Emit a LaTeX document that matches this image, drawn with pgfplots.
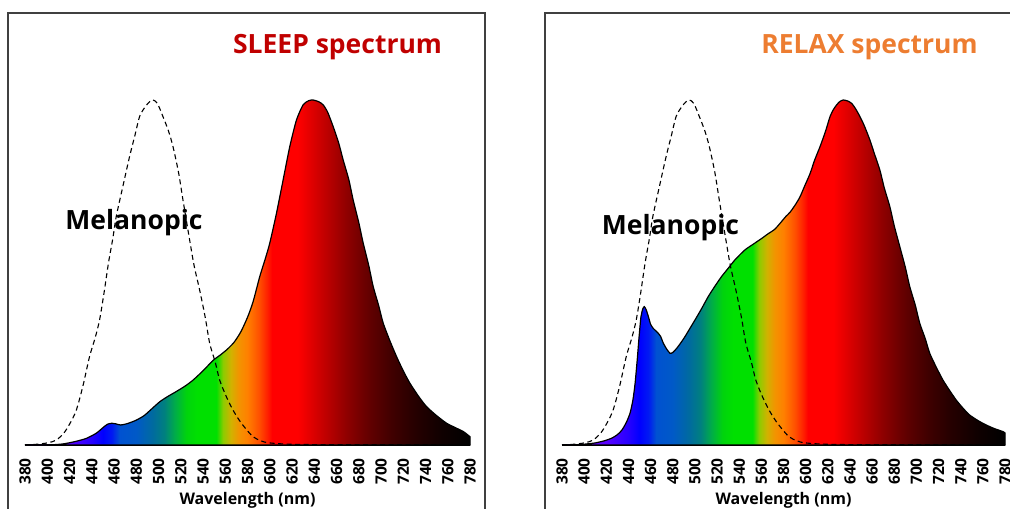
\documentclass[border=0pt]{standalone}
\usepackage{pgfplots}
\pgfplotsset{compat=1.18}
\usepackage{pgfplotstable}
\usepackage{fontspec}
\setmainfont{Open Sans}

\definecolor{sleepred}{RGB}{192,0,0}
\definecolor{relaxorange}{RGB}{237,125,49}
\definecolor{boxgray}{RGB}{64,64,64}

% horizontal spectral shading: 380 nm -> 25bp, 780 nm -> 75bp (8 nm per bp)
\pgfdeclarehorizontalshading{spec}{100bp}{%
rgb(0bp)=(0.45,0,1);
rgb(25bp)=(0.45,0,1);
rgb(30bp)=(0.35,0,1);
rgb(32.5bp)=(0.15,0,1);
rgb(33.75bp)=(0,0,1);
rgb(34.75bp)=(0,0.1,0.95);
rgb(35.625bp)=(0,0.32,0.82);
rgb(37.5bp)=(0,0.35,0.78);
rgb(39.375bp)=(0,0.42,0.62);
rgb(40.625bp)=(0,0.5,0.5);
rgb(41.875bp)=(0,0.68,0.28);
rgb(43.125bp)=(0,0.83,0.05);
rgb(44.375bp)=(0,0.88,0);
rgb(46.5bp)=(0,0.88,0);
rgb(47.25bp)=(0.55,0.8,0);
rgb(48.125bp)=(0.82,0.7,0);
rgb(49bp)=(0.95,0.58,0);
rgb(50bp)=(1,0.5,0);
rgb(51.25bp)=(1,0.32,0);
rgb(52.25bp)=(1,0.12,0);
rgb(52.75bp)=(1,0,0);
rgb(55.625bp)=(1,0,0);
rgb(57.5bp)=(0.85,0,0);
rgb(59.375bp)=(0.7,0,0);
rgb(61.25bp)=(0.55,0,0);
rgb(63.75bp)=(0.38,0,0);
rgb(66.25bp)=(0.25,0,0);
rgb(68.75bp)=(0.15,0,0);
rgb(71.875bp)=(0.06,0,0);
rgb(75bp)=(0,0,0);
rgb(100bp)=(0,0,0)}

\pgfplotstableread{
lam v
380 0
400 0
414 0.003
425 0.01
435 0.019
444 0.034
450 0.05
454 0.06
458 0.063
462 0.061
466 0.058
472 0.062
480 0.072
487 0.085
493 0.102
501 0.125
508 0.14
516 0.155
524 0.171
531 0.188
540 0.215
549 0.245
556 0.262
562 0.278
568 0.298
574 0.328
580 0.37
585 0.415
591 0.488
596 0.54
600 0.585
606 0.671
612 0.768
618 0.865
624 0.942
630 0.986
635 0.998
639 1.0
644 0.995
648 0.986
652 0.965
657 0.923
662 0.875
666 0.826
671 0.77
675 0.71
680 0.645
684 0.585
689 0.52
693 0.459
698 0.403
702 0.353
708 0.302
714 0.256
720 0.215
726 0.179
734 0.14
741 0.111
750 0.085
759 0.063
767 0.05
774 0.039
780 0.024
}\sleepdata

\pgfplotstableread{
lam v
380 0
395 0.001
405 0.004
410 0.006
418 0.012
425 0.02
430 0.03
434 0.043
438 0.065
441.4 0.092
444 0.13
446 0.179
448 0.25
449.5 0.31
451.3 0.372
453 0.395
454.3 0.401
456 0.392
458 0.372
460 0.35
462.4 0.338
466.9 0.324
469 0.315
471.5 0.295
474.5 0.278
477.5 0.266
480 0.268
483.5 0.28
487 0.295
491 0.314
500 0.362
506 0.395
512 0.43
518 0.46
524 0.488
530 0.512
536 0.536
545 0.565
554 0.585
560 0.598
566 0.612
572 0.625
577 0.643
582 0.662
586 0.675
591 0.698
595 0.72
599 0.75
604 0.787
608 0.825
613 0.865
618 0.91
622 0.952
625 0.972
628 0.986
631 0.996
634 1.0
638 0.997
641.6 0.99
645 0.975
649 0.952
653 0.925
658 0.884
662 0.845
667 0.797
671 0.745
676 0.691
680 0.635
685 0.575
690 0.515
694 0.459
699 0.405
703 0.353
708 0.308
712 0.266
718 0.225
724 0.188
730 0.158
736 0.13
742 0.107
748 0.087
756 0.07
763 0.058
770 0.048
778 0.039
780 0.035
}\relaxdata

\pgfplotstableread{
lam v
380 0
390 0.002
400 0.006
408 0.014
415 0.035
420 0.06
426 0.1
432 0.17
438 0.256
443 0.31
447 0.362
451 0.44
455 0.527
459 0.6
462 0.662
468 0.75
474 0.836
479 0.9
483 0.952
488 0.98
492 0.995
495 1.0
499 0.99
504 0.952
509 0.91
513 0.865
518 0.79
522 0.71
528 0.594
532 0.52
537 0.449
542 0.37
546 0.295
551 0.24
555 0.188
561 0.14
567 0.101
573 0.07
579 0.045
585 0.024
592 0.012
600 0.006
620 0.002
660 0.001
780 0.001
}\melandata

\pgfplotsset{specaxis/.style={
  scale only axis, height=345bp, anchor=south west,
  xmin=380, xmax=780, ymin=0, ymax=1,
  axis x line=bottom, axis y line=none,
  axis line style={-, black, line width=1.3bp},
  xtick={380,400,...,780},
  xticklabels={380,400,420,440,460,480,500,520,540,560,580,600,620,640,660,680,700,720,740,760,780},
  major tick length=0pt,
  xticklabel style={rotate=90, anchor=east, inner sep=0pt,
    font=\fontsize{15.5bp}{17bp}\selectfont\bfseries},
  xticklabel shift=13bp,
  clip=false,
}}

\begin{document}
\begin{tikzpicture}[x=1bp,y=1bp]
\useasboundingbox (0,0) rectangle (1010,509);
\clip (0,0) rectangle (1010,509);

\draw[boxgray, line width=1.3bp] (8,-30) rectangle (485,496);
\draw[boxgray, line width=1.3bp] (545,-30) rectangle (1022,496);

\begin{axis}[specaxis, width=445bp, at={(25bp,64bp)}]
\addplot[draw=black, line width=1.2bp, shading=spec, smooth, tension=0.4] table[x=lam,y=v]{\sleepdata} \closedcycle;
\addplot[draw=black, line width=1.1bp, dash pattern=on 5bp off 3.5bp, smooth] table[x=lam,y=v]{\melandata};
\end{axis}

\begin{axis}[specaxis, width=443bp, at={(562bp,64bp)}]
\addplot[draw=black, line width=1.2bp, shading=spec, smooth, tension=0.4] table[x=lam,y=v]{\relaxdata} \closedcycle;
\addplot[draw=black, line width=1.1bp, dash pattern=on 5bp off 3.5bp, smooth] table[x=lam,y=v]{\melandata};
\end{axis}

\node[text=sleepred, font=\fontsize{26.5bp}{30bp}\selectfont\bfseries] at (337.5,462) {SLEEP spectrum};
\node[text=relaxorange, font=\fontsize{26.5bp}{30bp}\selectfont\bfseries] at (869.5,462) {RELAX spectrum};
\node[font=\fontsize{26.5bp}{30bp}\selectfont\bfseries] at (134,286) {Melanopic};
\node[font=\fontsize{26.5bp}{30bp}\selectfont\bfseries] at (670.5,281) {Melanopic};
\node[font=\fontsize{16bp}{18bp}\selectfont\bfseries] at (247.5,9) {Wavelength (nm)};
\node[font=\fontsize{16bp}{18bp}\selectfont\bfseries] at (783.5,9) {Wavelength (nm)};
\end{tikzpicture}
\end{document}
